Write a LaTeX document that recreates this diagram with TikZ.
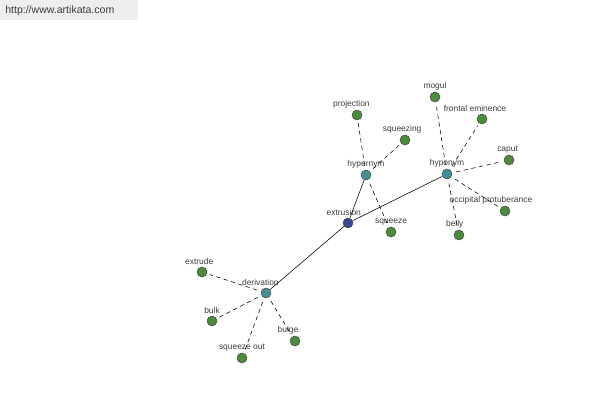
\documentclass[tikz,border=0pt]{standalone}
\usepackage{fontspec}
\setmainfont{Liberation Sans}
\definecolor{rootblue}{RGB}{56,72,150}
\definecolor{hubteal}{RGB}{64,144,148}
\definecolor{leafgreen}{RGB}{74,140,58}
\definecolor{txtgrey}{RGB}{60,60,60}
\definecolor{markgrey}{RGB}{238,238,238}
\usetikzlibrary{positioning}

\begin{document}
\begin{tikzpicture}[
    x=0.025cm, y=-0.025cm,
    dot/.style={circle, draw=black!70, line width=0.4pt, minimum size=0.25cm, inner sep=0pt},
    root/.style={dot, fill=rootblue},
    hub/.style={dot, fill=hubteal},
    leaf/.style={dot, fill=leafgreen},
    lbl/.style={font=\fontsize{6}{7}\selectfont, text=txtgrey, inner sep=0.5pt},
    every label/.style={lbl},
    label distance=0.6pt,
    link/.style={black, line width=0.4pt},
    rel/.style={black, line width=0.4pt, dash pattern=on 3pt off 2.5pt, shorten <=3pt, shorten >=2pt}
]
\useasboundingbox (0,0) rectangle (600,400);

% Watermark
\fill[markgrey] (0,0) rectangle (138,20);
\node (site) [anchor=west, font=\fontsize{7.5}{9}\selectfont, text=txtgrey, inner sep=0pt] at (5,11) {http://www.artikata.com};

% Nodes
\node (extrusion) [root, label={[xshift=-3pt]above:extrusion}] at (348,223) {};
\node (hypernym) [hub, label=above:hypernym] at (366,175) {};
\node (hyponym) [hub, label=above:hyponym] at (447,174) {};
\node (derivation) [hub, label={[xshift=-4pt]above:derivation}] at (266,293) {};

\node (projection) [leaf, label={[xshift=-4pt]above:projection}] at (357,115) {};
\node (squeezing) [leaf, label={[xshift=-2pt]above:squeezing}] at (405,140) {};
\node (squeeze) [leaf, label=above:squeeze] at (391,232) {};

\node (mogul) [leaf, label=above:mogul] at (435,97) {};
\node (frontal) [leaf, label={[xshift=-5pt]above:frontal eminence}] at (482,119) {};
\node (caput) [leaf, label={[xshift=-1pt]above:caput}] at (509,160) {};
\node (occipital) [leaf, label={[xshift=-10pt]above:occipital protuberance}] at (505,211) {};
\node (belly) [leaf, label={[xshift=-3pt]above:belly}] at (459,235) {};

\node (extrude) [leaf, label={[xshift=-2pt]above:extrude}] at (202,272) {};
\node (bulk) [leaf, label=above:bulk] at (212,321) {};
\node (squeezeout) [leaf, label=above:squeeze out] at (242,358) {};
\node (bulge) [leaf, label={[xshift=-5pt]above:bulge}] at (295,341) {};

% Links
\draw [link] (extrusion) -- (hypernym);
\draw [link] (extrusion) -- (hyponym);
\draw [link] (extrusion) -- (derivation);

\foreach \t in {projection, squeezing, squeeze}
    \draw [rel] (hypernym) -- (\t);
\foreach \t in {mogul, frontal, caput, occipital, belly}
    \draw [rel] (hyponym) -- (\t);
\foreach \t in {extrude, bulk, squeezeout, bulge}
    \draw [rel] (derivation) -- (\t);

\end{tikzpicture}
\end{document}
